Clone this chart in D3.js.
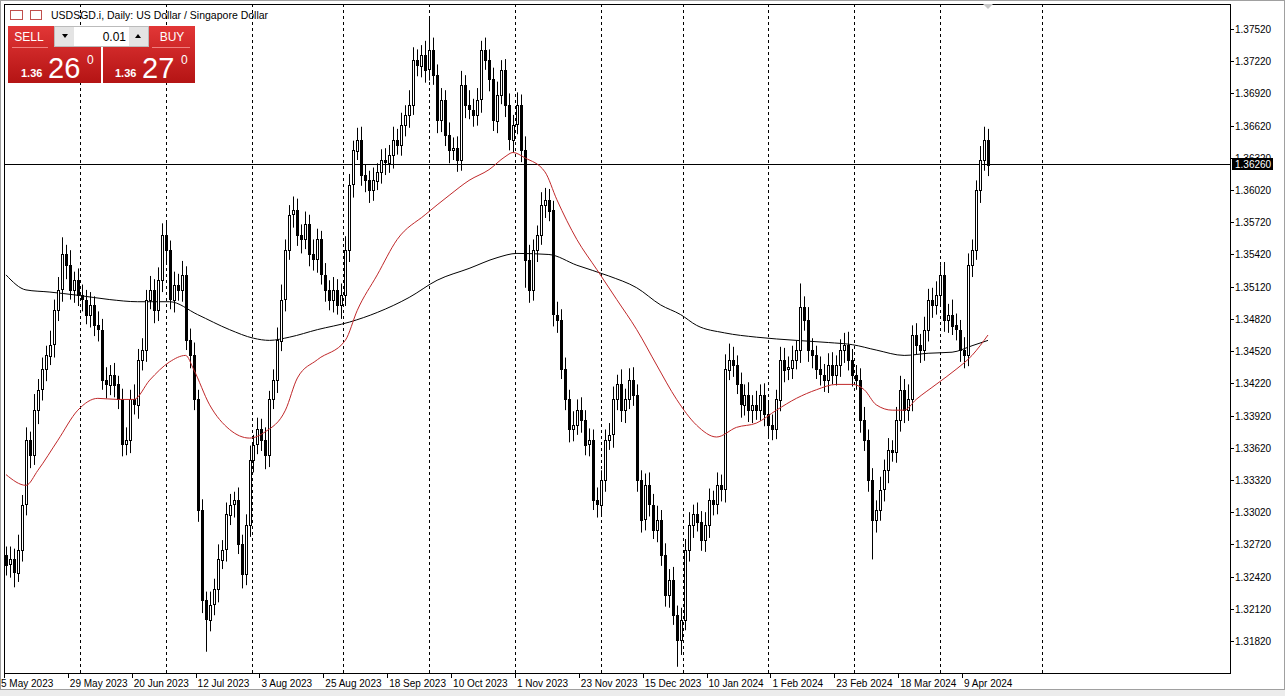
<!DOCTYPE html>
<html>
<head>
<meta charset="utf-8">
<script src="https://cdn.jsdelivr.net/npm/d3@7"></script>
<style>
  body { margin: 0; background: #fff; }
  svg text { font-family: "Liberation Sans", Arial, sans-serif; }
</style>
</head>
<body>
<svg id="chart" width="1285" height="696"></svg>
<script>
// daily closes, USDSGD
var closes = [
  1.3253,1.3258,1.3246,1.3267,1.3309,1.3369,1.3355,1.3397,1.3416,1.3435,
  1.3448,1.3458,1.3490,1.3509,1.3542,1.3532,1.3509,1.3518,1.3504,1.3500,
  1.3486,1.3495,1.3476,1.3472,1.3425,1.3421,1.3430,1.3421,1.3407,1.3365,
  1.3369,1.3407,1.3402,1.3444,1.3453,1.3500,1.3509,1.3490,1.3518,1.3560,
  1.3546,1.3500,1.3514,1.3509,1.3523,1.3462,1.3448,1.3407,1.3304,1.3220,
  1.3202,1.3216,1.3230,1.3258,1.3267,1.3300,1.3309,1.3313,1.3272,1.3244,
  1.3290,1.3351,1.3365,1.3379,1.3369,1.3355,1.3407,1.3425,1.3462,1.3500,
  1.3546,1.3579,1.3583,1.3560,1.3556,1.3570,1.3542,1.3537,1.3556,1.3523,
  1.3509,1.3500,1.3509,1.3495,1.3504,1.3546,1.3607,1.3639,1.3649,1.3616,
  1.3611,1.3602,1.3611,1.3619,1.3630,1.3628,1.3635,1.3649,1.3644,1.3663,
  1.3672,1.3681,1.3723,1.3718,1.3728,1.3714,1.3732,1.3709,1.3667,1.3686,
  1.3653,1.3639,1.3641,1.3630,1.3700,1.3681,1.3677,1.3672,1.3686,1.3732,
  1.3723,1.3705,1.3667,1.3691,1.3714,1.3681,1.3649,1.3663,1.3681,1.3639,
  1.3537,1.3509,1.3546,1.3560,1.3588,1.3593,1.3583,1.3486,1.3481,1.3435,
  1.3407,1.3379,1.3383,1.3397,1.3388,1.3365,1.3369,1.3313,1.3309,1.3332,
  1.3369,1.3374,1.3407,1.3421,1.3397,1.3407,1.3425,1.3411,1.3332,1.3295,
  1.3327,1.3309,1.3286,1.3295,1.3262,1.3225,1.3239,1.3206,1.3183,1.3202,
  1.3267,1.3290,1.3300,1.3293,1.3276,1.3290,1.3313,1.3309,1.3327,1.3323,
  1.3435,1.3444,1.3439,1.3421,1.3402,1.3411,1.3397,1.3402,1.3397,1.3411,
  1.3393,1.3383,1.3379,1.3407,1.3444,1.3435,1.3437,1.3444,1.3453,1.3493,
  1.3481,1.3453,1.3448,1.3435,1.3430,1.3425,1.3439,1.3430,1.3439,1.3453,
  1.3458,1.3444,1.3430,1.3425,1.3388,1.3369,1.3332,1.3295,1.3304,1.3323,
  1.3341,1.3360,1.3358,1.3388,1.3416,1.3397,1.3407,1.3467,1.3458,1.3453,
  1.3472,1.3500,1.3495,1.3504,1.3523,1.3481,1.3486,1.3476,1.3472,1.3453,
  1.3448,1.3532,1.3546,1.3602,1.3630,1.3649,1.3626
]
var firstOpen = 1.3262

// wick lengths above / below the body, in pips
var hiPips = [
  8,12,10,14,9,12,8,15,10,11, 9,13,10,12,16,9,14,8,11,10,
  9,12,8,13,10,12,9,11,8,10, 12,9,14,10,11,9,13,10,12,11,
  14,9,12,10,13,8,11,12,9,10, 8,12,10,14,9,11,10,8,12,9,
  10,13,9,11,10,12,8,10,12,14, 10,9,13,11,10,12,9,14,10,8,
  11,9,12,10,11,13,10,9,11,12, 10,9,12,8,10,11,9,12,10,11,
  9,14,12,10,9,13,31,12,10,11, 9,12,10,11,13,9,14,10,11,9,
  12,10,11,12,9,10,11,9,12,10, 13,14,10,9,12,11,10,9,12,10,
  11,9,13,10,12,9,11,10,12,9, 10,11,12,9,14,10,11,12,10,9,
  11,12,10,13,9,11,10,12,9,11, 10,12,9,11,10,12,11,9,12,10,
  14,15,12,9,11,10,12,9,13,10, 11,12,10,9,12,11,10,13,9,22,
  10,12,11,9,12,10,11,12,9,10, 11,12,10,9,11,12,10,11,9,12,
  10,11,9,12,13,10,14,9,11,10, 12,10,11,13,9,12,10,14,11,9,
  12,11,10,9,13,12,10,11,14,10, 12,9,11,10,12,23,13
]
var loPips = [
  10,12,14,9,11,10,12,9,13,10, 11,9,12,10,11,13,9,12,10,11,
  9,12,10,11,9,13,10,12,9,11, 10,12,9,13,10,11,9,12,10,11,
  13,9,12,10,11,9,12,10,11,12, 30,11,10,12,9,11,10,12,9,13,
  10,11,12,9,10,13,11,9,12,10, 11,9,12,10,13,9,11,10,12,9,
  11,10,12,9,13,10,11,12,9,10, 11,12,10,9,11,12,10,13,9,10,
  11,12,9,10,11,12,10,9,12,11, 10,12,9,11,10,12,9,11,10,12,
  9,11,10,12,9,11,10,12,9,11, 26,12,10,11,9,12,10,11,12,9,
  10,12,11,9,12,10,11,9,12,10, 11,9,12,10,11,12,9,10,11,12,
  10,11,9,12,10,11,12,9,25,14, 10,11,12,9,10,11,12,10,9,11,
  12,10,11,9,12,10,11,12,9,10, 11,12,10,9,11,12,10,11,9,12,
  10,11,12,9,10,11,12,9,10,11, 12,10,11,9,12,10,11,37,12,10,
  11,12,9,10,11,12,10,11,9,12, 10,11,12,9,10,11,12,9,10,11,
  12,10,11,9,12,10,11,12,9,12, 10,11,12,10,11,9,14
]

// moving averages, as [bar index, price]
var maFast = [
  [0,1.3337],[5,1.3327],[8,1.3341],[13,1.3369],[18,1.3397],[23,1.3408],[28,1.3407],
  [32,1.3407],[36,1.3425],[41,1.3442],[45,1.3448],[47,1.3435],[51,1.3402],[56,1.3379],
  [61,1.3371],[65,1.3377],[70,1.3397],[73,1.3427],[78,1.3444],[85,1.3462],[88,1.3490],
  [93,1.3523],[98,1.3556],[105,1.3579],[111,1.3597],[116,1.3611],[121,1.3621],[125,1.3633],
  [127,1.3637],[130,1.3632],[135,1.3619],[138,1.3593],[143,1.3556],[148,1.3528],[153,1.3500],
  [158,1.3472],[163,1.3439],[168,1.3407],[173,1.3383],[178,1.3372],[183,1.3381],[188,1.3385],
  [193,1.3397],[198,1.3408],[203,1.3416],[208,1.3421],[212,1.3421],[215,1.3416],[218,1.3402],
  [222,1.3397],[225,1.3397],[228,1.3407],[233,1.3421],[238,1.3435],[242,1.3448],[246,1.3467]
]
var maSlow = [
  [0,1.3523],[5,1.3509],[11,1.3507],[18,1.3504],[26,1.3500],[33,1.3498],[41,1.3498],
  [48,1.3486],[56,1.3472],[62,1.3464],[66,1.3462],[71,1.3465],[78,1.3472],[86,1.3479],
  [93,1.3488],[101,1.3502],[108,1.3518],[116,1.3529],[123,1.3539],[128,1.3543],[136,1.3542],
  [143,1.3532],[151,1.3522],[158,1.3511],[164,1.3495],[169,1.3486],[173,1.3476],[180,1.3469],
  [188,1.3465],[198,1.3462],[206,1.3460],[212,1.3458],[218,1.3453],[225,1.3448],[231,1.3450],
  [237,1.3451],[242,1.3457],[246,1.3462]
]

var priceTicks = [1.3752,1.3722,1.3692,1.3662,1.3632,1.3602,1.3572,1.3542,1.3512,1.3482,
  1.3452,1.3422,1.3392,1.3362,1.3332,1.3302,1.3272,1.3242,1.3212,1.3182]
var dateLabels = ["5 May 2023","29 May 2023","20 Jun 2023","12 Jul 2023","3 Aug 2023","25 Aug 2023",
  "18 Sep 2023","10 Oct 2023","1 Nov 2023","23 Nov 2023","15 Dec 2023","10 Jan 2024",
  "1 Feb 2024","23 Feb 2024","18 Mar 2024","9 Apr 2024"]
// month separators, between bars
var monthBreaks = [18.5,40,61.5,84.5,106,127.5,149,169.5,191,212.5,234,259.5]
var lastPrice = 1.3626

var pLeft = 4, pRight = 1230, pTop = 4, pBottom = 673

var bars = closes.map(function(c, i) {
  var o = i == 0 ? firstOpen : closes[i - 1]
  return {
    i: i, o: o, c: c,
    h: Math.max(o, c) + hiPips[i] / 10000,
    l: Math.min(o, c) - loPips[i] / 10000
  }
})

var x = d3.scaleLinear().domain([0, closes.length - 1]).range([6, 988])
var y = d3.scaleLinear().domain([1.31522, 1.37753]).range([pBottom, pTop])

var svg = d3.select("#chart")

// window frame
svg.append("rect").attr("x", 0).attr("y", 690).attr("width", 1285).attr("height", 6).attr("fill", "#ececec")
svg.append("rect").attr("x", 0.5).attr("y", 0.5).attr("width", 1284).attr("height", 689)
  .attr("fill", "none").attr("stroke", "#a0a0a0")

var plot = svg.append("g")

plot.selectAll("line.sep")
    .data(monthBreaks)
  .enter().append("line")
    .attr("class", "sep")
    .attr("x1", function(d) { return Math.round(x(d)) + 0.5 })
    .attr("x2", function(d) { return Math.round(x(d)) + 0.5 })
    .attr("y1", pTop).attr("y2", pBottom)
    .attr("stroke", "#000").attr("stroke-dasharray", "3,3")

// current price line
plot.append("line")
  .attr("x1", pLeft).attr("x2", pRight)
  .attr("y1", Math.round(y(lastPrice)) + 0.5).attr("y2", Math.round(y(lastPrice)) + 0.5)
  .attr("stroke", "#000")

var line = d3.line()
  .x(function(d) { return x(d[0]) })
  .y(function(d) { return y(d[1]) })
  .curve(d3.curveMonotoneX)

plot.append("path").attr("d", line(maSlow)).attr("fill", "none").attr("stroke", "#000").attr("stroke-width", 1)

var candle = plot.selectAll("g.bar")
    .data(bars)
  .enter().append("g")
    .attr("class", "bar")

candle.append("line")
  .attr("x1", function(d) { return Math.round(x(d.i)) + 0.5 })
  .attr("x2", function(d) { return Math.round(x(d.i)) + 0.5 })
  .attr("y1", function(d) { return y(d.h) })
  .attr("y2", function(d) { return y(d.l) })
  .attr("stroke", "#000")

candle.append("rect")
  .attr("x", function(d) { return Math.round(x(d.i)) - 0.5 })
  .attr("y", function(d) { return Math.round(y(Math.max(d.o, d.c))) + 0.5 })
  .attr("width", 2)
  .attr("height", function(d) { return Math.max(1, Math.round(y(Math.min(d.o, d.c)) - y(Math.max(d.o, d.c)))) })
  .attr("fill", function(d) { return d.c >= d.o ? "#fff" : "#000" })
  .attr("stroke", "#000").attr("stroke-width", 1)

plot.append("path").attr("d", line(maFast)).attr("fill", "none").attr("stroke", "#c0282a").attr("stroke-width", 1)

// plot border
svg.append("rect").attr("x", pLeft + 0.5).attr("y", pTop + 0.5)
  .attr("width", pRight - pLeft).attr("height", pBottom - pTop)
  .attr("fill", "none").attr("stroke", "#000")
svg.append("path").attr("d", "M983,4 L993,4 L988,9 Z").attr("fill", "#c8c8c8")

// price axis
var ya = svg.append("g")
ya.selectAll("line").data(priceTicks).enter().append("line")
  .attr("x1", pRight).attr("x2", pRight + 4)
  .attr("y1", function(d) { return Math.round(y(d)) + 0.5 })
  .attr("y2", function(d) { return Math.round(y(d)) + 0.5 })
  .attr("stroke", "#000")
ya.selectAll("text").data(priceTicks).enter().append("text")
  .attr("x", pRight + 5)
  .attr("y", function(d) { return y(d) + 4 })
  .attr("font-size", "10px")
  .text(function(d) { return d3.format(".5f")(d) })

var py = Math.round(y(lastPrice))
svg.append("rect").attr("x", pRight + 2).attr("y", py - 6).attr("width", 41).attr("height", 12).attr("fill", "#000")
svg.append("text").attr("x", pRight + 5).attr("y", py + 4).attr("font-size", "10px").attr("fill", "#fff")
  .text(d3.format(".5f")(lastPrice))

// date axis
var xa = svg.append("g")
xa.selectAll("line").data(dateLabels).enter().append("line")
  .attr("x1", function(d, i) { return Math.round(x(i * 16)) - 2 + 0.5 })
  .attr("x2", function(d, i) { return Math.round(x(i * 16)) - 2 + 0.5 })
  .attr("y1", pBottom).attr("y2", pBottom + 5)
  .attr("stroke", "#000")
xa.selectAll("text").data(dateLabels).enter().append("text")
  .attr("x", function(d, i) { return x(i * 16) - 2 + (i == 0 ? -3 : 2) })
  .attr("y", pBottom + 14)
  .attr("font-size", "10px")
  .text(function(d) { return d })

// header
var hdr = svg.append("g")
hdr.append("rect").attr("x", 10.5).attr("y", 10.5).attr("width", 12).attr("height", 9).attr("fill", "#fff").attr("stroke", "#c0504d")
hdr.append("rect").attr("x", 30.5).attr("y", 10.5).attr("width", 11).attr("height", 9).attr("fill", "#fff").attr("stroke", "#c0504d")
hdr.append("text").attr("x", 51).attr("y", 19).attr("font-size", "10.5px")
  .text("USDSGD.i, Daily:  US Dollar / Singapore Dollar")

// trade panel
var defs = svg.append("defs")
var grad = defs.append("linearGradient").attr("id", "red").attr("x1", 0).attr("y1", 0).attr("x2", 0).attr("y2", 1)
grad.append("stop").attr("offset", "0%").attr("stop-color", "#e23636")
grad.append("stop").attr("offset", "100%").attr("stop-color", "#b41414")

var panel = svg.append("g")
panel.append("rect").attr("x", 8).attr("y", 26).attr("width", 93).attr("height", 57).attr("fill", "url(#red)")
panel.append("rect").attr("x", 103).attr("y", 26).attr("width", 92).attr("height", 57).attr("fill", "url(#red)")
panel.append("line").attr("x1", 12).attr("x2", 48).attr("y1", 47.5).attr("y2", 47.5).attr("stroke", "#f08080")
panel.append("line").attr("x1", 152).attr("x2", 190).attr("y1", 47.5).attr("y2", 47.5).attr("stroke", "#f08080")
panel.append("rect").attr("x", 54.5).attr("y", 26.5).attr("width", 94).attr("height", 20).attr("fill", "#e4e4e4").attr("stroke", "#bbb")
panel.append("rect").attr("x", 74).attr("y", 27).attr("width", 55).attr("height", 19).attr("fill", "#fff")
panel.append("path").attr("d", "M62,34 L68,34 L65,38 Z").attr("fill", "#000")
panel.append("path").attr("d", "M135,38 L141,38 L138,34 Z").attr("fill", "#000")
panel.append("text").attr("x", 126).attr("y", 41).attr("text-anchor", "end").attr("font-size", "12px").text("0.01")
panel.append("text").attr("x", 29).attr("y", 41).attr("text-anchor", "middle").attr("font-size", "12px").attr("fill", "#fff").text("SELL")
panel.append("text").attr("x", 172).attr("y", 41).attr("text-anchor", "middle").attr("font-size", "12px").attr("fill", "#fff").text("BUY")
;[[21, "1.36", "26"], [115, "1.36", "27"]].forEach(function(p) {
  panel.append("text").attr("x", p[0]).attr("y", 77).attr("font-size", "11px").attr("font-weight", "bold").attr("fill", "#fff").text(p[1])
  panel.append("text").attr("x", p[0] + 27).attr("y", 78).attr("font-size", "29px").attr("fill", "#fff").text(p[2])
  panel.append("text").attr("x", p[0] + 66).attr("y", 64).attr("font-size", "12px").attr("fill", "#fff").text("0")
})
</script>
</body>
</html>
